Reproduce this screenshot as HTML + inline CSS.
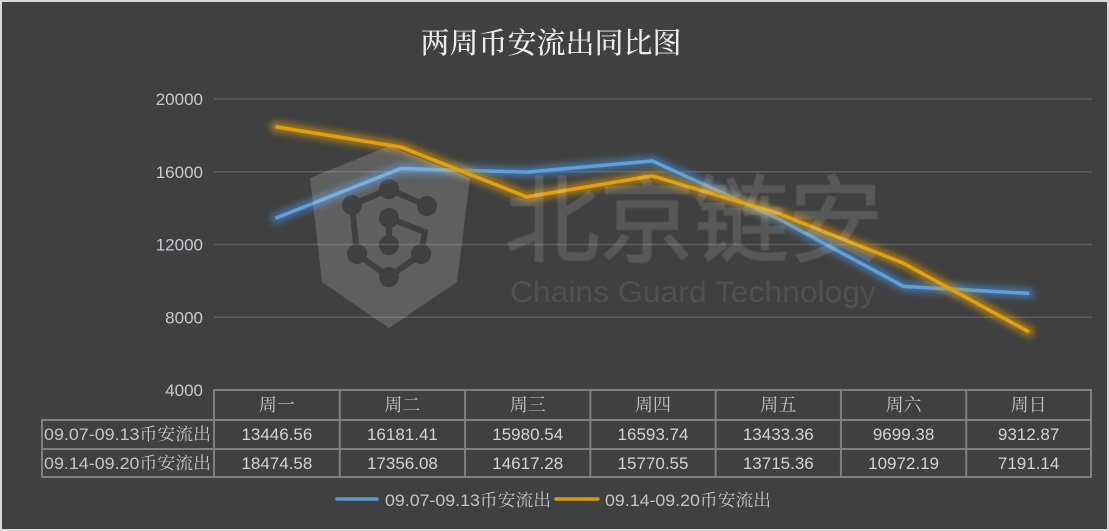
<!DOCTYPE html>
<html lang="zh">
<head>
<meta charset="utf-8">
<title>两周币安流出同比图</title>
<style>
html,body{margin:0;padding:0;background:#404040;}
svg{display:block;}
text{font-family:"Liberation Sans","Noto Serif CJK SC",serif;}
</style>
</head>
<body>
<svg id="chart" xmlns="http://www.w3.org/2000/svg" width="1109" height="531" viewBox="0 0 1109 531">
  <defs>
    <filter id="glow" x="-10%" y="-50%" width="120%" height="200%"><feGaussianBlur stdDeviation="3.2"/></filter>
    <filter id="soft" x="-5%" y="-5%" width="110%" height="110%"><feGaussianBlur stdDeviation="0.5"/></filter>
    <mask id="shield-mask" maskUnits="userSpaceOnUse" x="0" y="0" width="1109" height="531">
      <polygon points="310,178 389,146 470,178 457,282 389,328 322,282" fill="#fff"/>
      <g fill="#000" stroke="#000">
        <polyline points="427,206 389,189 352,205 357,254 389,277 421,254 425,232 389,218 389,245" fill="none" stroke-width="6"/>
        <circle cx="389" cy="189" r="9.5"/>
        <circle cx="352" cy="205" r="9.5"/>
        <circle cx="427" cy="206" r="9.5"/>
        <circle cx="389" cy="218" r="9.5"/>
        <circle cx="389" cy="245" r="9.5"/>
        <circle cx="357" cy="254" r="9.5"/>
        <circle cx="421" cy="254" r="9.5"/>
        <circle cx="389" cy="277" r="9.5"/>
      </g>
    </mask>
  </defs>
  <rect x="1" y="1" width="1107" height="529" fill="#404040" stroke="#d9d9d9" stroke-width="2"/>
  <text x="551" y="53" text-anchor="middle" font-size="29" fill="#ececec" style="font-family:'Noto Serif CJK SC',serif;font-weight:500">两周币安流出同比图</text>
  <g id="grid"></g>
  <g id="yticks"></g>
  <g id="series"></g>
  <g>
    <rect x="300" y="140" width="180" height="195" fill="#fff" opacity="0.16" mask="url(#shield-mask)"/>
    <text x="505" y="254" font-size="94.5" fill="#fff" stroke="#fff" stroke-width="1.6" opacity="0.125" filter="url(#soft)" style="font-family:'Noto Sans CJK SC',sans-serif">北京链安</text>
    <text x="510" y="302" font-size="30" fill="#fff" opacity="0.09" textLength="366" lengthAdjust="spacingAndGlyphs" style="font-family:'Liberation Sans',sans-serif">Chains Guard Technology</text>
  </g>
  <g id="table"></g>
  <g>
    <g>
      <line x1="337" y1="499" x2="377" y2="499" stroke="#5b9bd5" stroke-width="3.5" stroke-linecap="round"/>
      <text x="385" y="506" font-size="17" fill="#c4c4c4" textLength="166" lengthAdjust="spacingAndGlyphs">09.07-09.13币安流出</text>
    </g>
    <g>
      <line x1="556" y1="499" x2="598" y2="499" stroke="#d99a0f" stroke-width="3.5" stroke-linecap="round"/>
      <text x="605" y="506" font-size="17" fill="#c4c4c4" textLength="166" lengthAdjust="spacingAndGlyphs">09.14-09.20币安流出</text>
    </g>
  </g>
</svg>
<script>
const categories = ["周一", "周二", "周三", "周四", "周五", "周六", "周日"];
const seriesNames = ["09.07-09.13币安流出", "09.14-09.20币安流出"];
const week1Values = [13446.56, 16181.41, 15980.54, 16593.74, 13433.36, 9699.38, 9312.87];
const week2Values = [18474.58, 17356.08, 14617.28, 15770.55, 13715.36, 10972.19, 7191.14];
const yTickValues = [20000, 16000, 12000, 8000, 4000];

const NS = "http://www.w3.org/2000/svg";
const plotLeft = 214, plotRight = 1091, plotBottom = 390, plotTop = 99;
const yMin = 4000, yMax = 20000;
const pointStart = 275.5, pointStep = 125.6;
const rowLines = [390, 420, 449, 477];
const tableLeft = 42;

function xScale(i) { return pointStart + pointStep * i; }
function yScale(v) { return plotBottom - (v - yMin) * (plotBottom - plotTop) / (yMax - yMin); }
function colEdge(i) {
  const base = plotLeft + (plotRight - plotLeft) * i / categories.length;
  return (i === 0 || i === categories.length) ? base : base + 0.5;
}

function make(tag, parent, attrs, text) {
  const el = document.createElementNS(NS, tag);
  for (const k in attrs) el.setAttribute(k, attrs[k]);
  if (text !== undefined) el.textContent = text;
  parent.appendChild(el);
  return el;
}

const grid = document.getElementById("grid");
const yticks = document.getElementById("yticks");
yTickValues.forEach(function (v) {
  if (v !== yMin) {
    const g = make("line", grid, { x1: plotLeft, x2: 1092, y1: yScale(v), y2: yScale(v), stroke: "#5e5e5e", "stroke-width": 1.4 });
    
    
  }
  const t = make("text", yticks, { x: 203, y: yScale(v) + 6, "text-anchor": "end", "font-size": 17, fill: "#c6cbd2" }, String(v));
  
  
});

const seriesGroup = document.getElementById("series");
function drawSeries(values, color, glow) {
  const pts = values.map(function (v, i) { return xScale(i) + "," + yScale(v); }).join(" ");
  const halo = make("polyline", seriesGroup, { points: pts, fill: "none", stroke: glow, "stroke-width": 11, "stroke-linejoin": "round", "stroke-linecap": "round", opacity: 0.6, filter: "url(#glow)" });
  
  
  const line = make("polyline", seriesGroup, { points: pts, fill: "none", stroke: color, "stroke-width": 3.5, "stroke-linejoin": "miter" });
  
  
}
drawSeries(week1Values, "#5ea0dd", "#4a8bc9");
drawSeries(week2Values, "#e3a00c", "#d4980f");

const table = document.getElementById("table");
function tableLine(x1, y1, x2, y2) {
  const l = make("line", table, { x1: x1, y1: y1, x2: x2, y2: y2, stroke: "#7f7f7f", "stroke-width": 2, "stroke-linecap": "square" });
  
  
}
tableLine(plotLeft, rowLines[0], plotRight, rowLines[0]);
tableLine(tableLeft, rowLines[1], plotRight, rowLines[1]);
tableLine(tableLeft, rowLines[2], plotRight, rowLines[2]);
tableLine(tableLeft, rowLines[3], plotRight, rowLines[3]);
tableLine(tableLeft, rowLines[1], tableLeft, rowLines[3]);
categories.forEach(function (c, i) {
  tableLine(colEdge(i), rowLines[0], colEdge(i), rowLines[3]);
});
tableLine(plotRight, rowLines[0], plotRight, rowLines[3]);

categories.forEach(function (c, i) {
  const cx = (colEdge(i) + colEdge(i + 1)) / 2;
  const head = make("text", table, { x: cx, y: 411, "text-anchor": "middle", "font-size": 18, fill: "#c4c4c4" }, c);
  
  
  const a = make("text", table, { x: cx, y: 440, "text-anchor": "middle", "font-size": 17, fill: "#cfd3d8" }, week1Values[i].toFixed(2));
  
  
  const b = make("text", table, { x: cx, y: 469, "text-anchor": "middle", "font-size": 17, fill: "#cfd3d8" }, week2Values[i].toFixed(2));
  
  
});
seriesNames.forEach(function (n, i) {
  const r = make("text", table, { x: 44, y: 440 + i * 29, "font-size": 17, fill: "#c4c4c4", textLength: 167, lengthAdjust: "spacingAndGlyphs" }, n);
  
  
});
</script>
</body>
</html>
